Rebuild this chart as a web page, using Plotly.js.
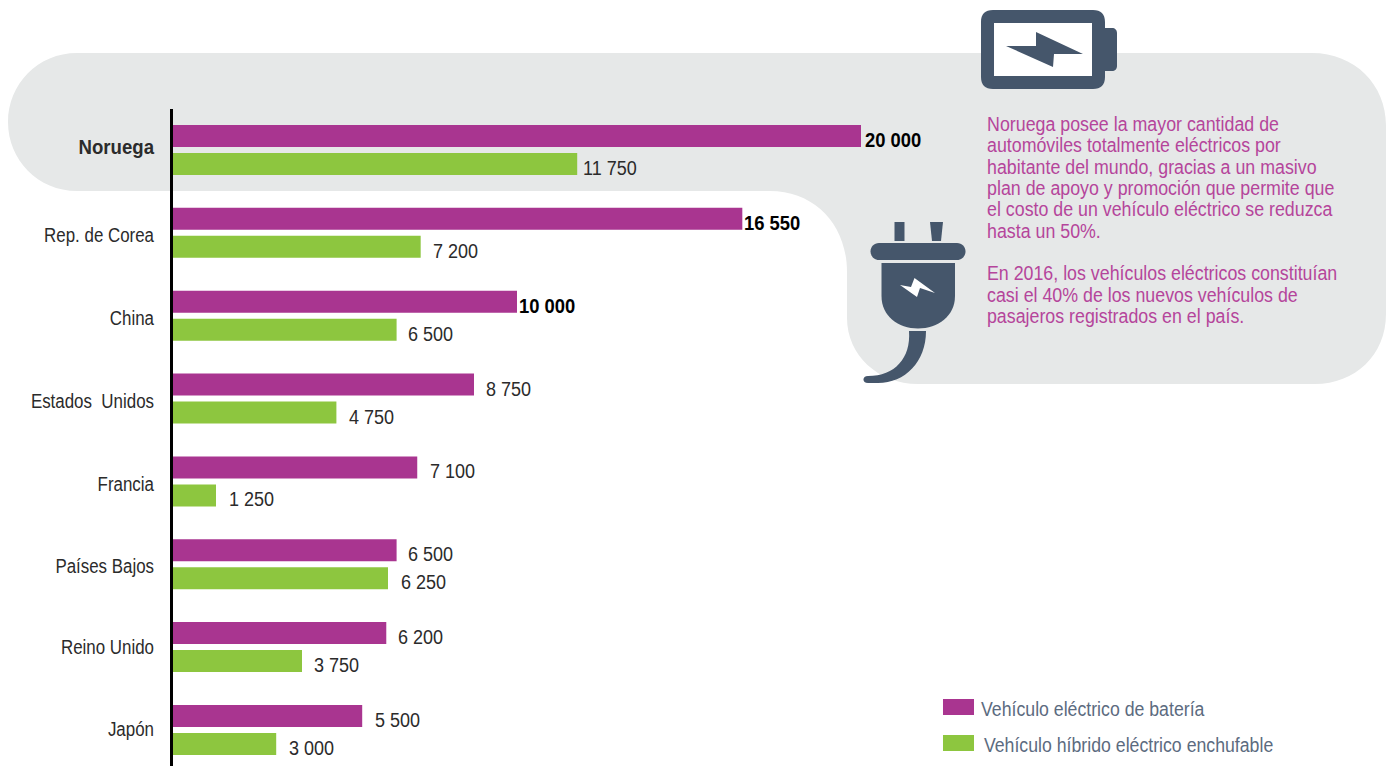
<!DOCTYPE html>
<html><head><meta charset="utf-8">
<script src="https://cdn.plot.ly/plotly-3.0.1.min.js"></script>
<style>html,body{margin:0;padding:0;background:#fff}</style>
</head><body><div id="chart" style="width:1391px;height:766px"></div>
<script>
const countries = ["Noruega","Rep. de Corea","China","Estados  Unidos","Francia","Países Bajos","Reino Unido","Japón"];
const batteryEV = [20000,16550,10000,8750,7100,6500,6200,5500];
const plugInHybrid = [11750,7200,6500,4750,1250,6250,3750,3000];
const batteryLabelShift = [2,0,0,10,11,9,10,11];
const hybridLabelShift = [4,10,9,11,11,11,10,11];
const countryLabelNudge = [-3,2,2,2,3,2,0,-1];
const boldBattery = [true,true,true,false,false,false,false,false];
const seriesNames = ["Vehículo eléctrico de batería","Vehículo híbrido eléctrico enchufable"];
const noteLines = ["Noruega posee la mayor cantidad de","automóviles totalmente eléctricos por","habitante del mundo, gracias a un masivo","plan de apoyo y promoción que permite que","el costo de un vehículo eléctrico se reduzca","hasta un 50%.","En 2016, los vehículos eléctricos constituían","casi el 40% de los nuevos vehículos de","pasajeros registrados en el país."];
const noteLineY = [124,145,167,188,209,231,273,295,316];

const W=1391,H=766,L=173,T=109;
const fx=x=>(x-L)/(W-L), fy=y=>1-(y-T)/(H-T);
const P=(s)=>s.replace(/(-?[\d.]+),(-?[\d.]+)/g,(m,a,b)=>fx(+a).toFixed(5)+','+fy(+b).toFixed(5));
const PURPLE='#a93590',GREEN='#8dc63f',SLATE='#45566b',GREY='#e6e8e8',FONT='"Liberation Sans",sans-serif';
const sh=(path,fill)=>({type:'path',xref:'paper',yref:'paper',layer:'below',path:P(path),fillcolor:fill,line:{width:0}});

const shapes=[
 sh('M77,53 L1312,53 C1355,53 1386,85 1386,125 L1386,314 C1386,355 1355,384 1315,384 L918,384 C878,384 847,355 847,318 L847,272 C847,225 815,191 770,191 L77,191 C38,191 8,160 8,122 C8,84 38,53 77,53 Z',GREY),
 sh('M993,10 L1093,10 C1101,10 1105,14 1105,22 L1105,28 L1112,28 C1115,28 1117,30 1117,33 L1117,66 C1117,69 1115,71 1112,71 L1105,71 L1105,77 C1105,85 1101,89 1093,89 L993,89 C985,89 981,85 981,77 L981,22 C981,14 985,10 993,10 Z',SLATE),
 sh('M994,23 L1092,23 L1092,76 L994,76 Z','#ffffff'),
 sh('M1036,32 L1083,54 L1054,54 L1053,67 L1006,46 L1036,46 Z',SLATE),
 sh('M894.5,222 L904.5,222 L904.5,241 L894.5,241 Z',SLATE),
 sh('M930,222 L943,222 L941,241 L932,241 Z',SLATE),
 sh('M879,243 L957,243 C962,243 965.5,247 965.5,251.5 C965.5,256 962,260 957,260 L879,260 C874,260 870.5,256 870.5,251.5 C870.5,247 874,243 879,243 Z',SLATE),
 sh('M881.5,263 L955,263 L955,296 C955,316 938,328.5 918,328.5 C898,328.5 881.5,316 881.5,296 Z',SLATE),
 sh('M909,331 L926,331 C926,362 905,383 878,383 L868,383 C862,383 862,376 868,376 C895,376 911,358 909,331 Z',SLATE),
 sh('M900,285 L911,287 L914.5,278 L935,293 L920,288 L917,297 Z','#ffffff'),
 sh('M943,699 L974,699 L974,715 L943,715 Z',PURPLE),
 sh('M943,735 L974,735 L974,751 L943,751 Z',GREEN)
];

const fmt=v=>String(v).replace(/\B(?=(\d{3})+$)/g,' ');
const annotations=[];
const addValue=(v,cat,yshift,xs,bold)=>annotations.push({x:v,y:cat,xref:'x',yref:'y',xanchor:'left',yanchor:'middle',xshift:xs,yshift:yshift,showarrow:false,text:bold?'<b>'+fmt(v)+'</b>':fmt(v),font:{family:FONT,size:20,color:bold?'#000':'#2b2b2b'}});
countries.forEach((c,i)=>{
 addValue(batteryEV[i],c,10,batteryLabelShift[i],boldBattery[i]);
 addValue(plugInHybrid[i],c,-18,hybridLabelShift[i],false);
});
noteLines.forEach((t,i)=>annotations.push({x:fx(987),y:fy(noteLineY[i]),xref:'paper',yref:'paper',xanchor:'left',yanchor:'middle',xshift:-2,showarrow:false,text:t,font:{family:FONT,size:20,color:'#b5459b'}}));
[[981,709],[984,745]].forEach((p,i)=>annotations.push({x:fx(p[0]),y:fy(p[1]),xref:'paper',yref:'paper',xanchor:'left',yanchor:'middle',xshift:-2,showarrow:false,text:seriesNames[i],font:{family:FONT,size:20,color:'#5c6b80'}}));

const data=[
 {type:'bar',orientation:'h',name:seriesNames[0],y:countries,x:batteryEV,marker:{color:PURPLE},hoverinfo:'x+y'},
 {type:'bar',orientation:'h',name:seriesNames[1],y:countries,x:plugInHybrid,marker:{color:GREEN},hoverinfo:'x+y'}
];
const layout={
 width:W,height:H,margin:{l:L,r:0,t:T,b:0,pad:0},paper_bgcolor:'rgba(0,0,0,0)',plot_bgcolor:'rgba(0,0,0,0)',
 showlegend:false,barmode:'group',bargap:0.3242,bargroupgap:0.214,
 xaxis:{range:[0,(W-L)/0.0344],visible:false,fixedrange:true},
 yaxis:{type:'category',categoryorder:'array',categoryarray:countries,range:[7.435,-0.495],
  tickmode:'array',tickvals:countries,ticktext:countries.map((c,i)=>i===0?'<b>'+c+'</b>':c),
  showline:true,linecolor:'#000',linewidth:3,ticks:'outside',ticklen:12,tickcolor:'rgba(0,0,0,0)',
  showgrid:false,zeroline:false,fixedrange:true,tickfont:{family:FONT,size:20,color:'#2b2b2b'}},
 shapes,annotations,font:{family:FONT}
};
// The reference type is a condensed face; none is installed, so the glyphs are narrowed in place.
const narrow=(el,k,keepLeft)=>{
 const w=el.getComputedTextLength();
 el.setAttribute('textLength',(w*k).toFixed(1));
 el.setAttribute('lengthAdjust','spacingAndGlyphs');
 if(keepLeft) el.setAttribute('x',(+el.getAttribute('x')-w*(1-k)/2).toFixed(1));
};
Plotly.newPlot('chart',data,layout,{displayModeBar:false,staticPlot:true}).then(gd=>{
 gd.querySelectorAll('.ytick text').forEach((el,i)=>{
  narrow(el,i===0?0.93:0.845,false);
  el.setAttribute('y',+el.getAttribute('y')+countryLabelNudge[i]);
 });
 gd.querySelectorAll('.annotation-text').forEach(el=>{
  const t=el.textContent;
  let k=0.9;
  if(noteLines.includes(t)) k=0.89;
  else if(seriesNames.includes(t)) k=0.885;
  else if(el.querySelector('[style*="bold"]')) k=0.92;
  narrow(el,k,true);
 });
});
</script></body></html>
